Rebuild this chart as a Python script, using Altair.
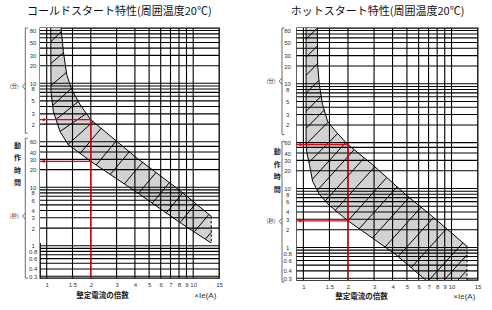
import altair as alt
import pandas as pd

# ---------------- shared axes / grid ----------------
X_DOMAIN = [0.9, 15]
T_DOMAIN = [0.28, 5300]          # seconds
X_TICKS = [1, 1.5, 2, 3, 4, 5, 6, 7, 8, 9, 10, 15]
X_GRID = [1, 1.5, 2, 3, 4, 5, 6, 7, 8, 9, 10]
GRID_MIN = [80, 70, 60, 50, 40, 30, 20, 10, 9, 8, 7, 6, 5, 4, 3, 2]
GRID_SEC = [60, 50, 40, 30, 20, 10, 9, 8, 7, 6, 5, 4, 3, 2, 1, 0.9, 0.8, 0.7, 0.6, 0.5, 0.4, 0.3]
LABEL_MIN = [80, 50, 30, 20, 10, 8, 5, 3, 2]
LABEL_SEC = [60, 40, 30, 20, 10, 8, 6, 4, 3, 2, 1, 0.8, 0.6, 0.4, 0.3]

# ---------------- cold start ----------------
COLD_TITLE = "コールドスタート特性(周囲温度20℃)"
COLD_FAST_X = [1.065, 1.07, 1.11, 1.233, 1.406, 1.62, 2.0, 4.03, 8.27, 13.28]
COLD_FAST_T = [5300, 435, 198, 90, 53, 41, 27.7, 8.5, 2.41, 1.11]
COLD_SLOW_X = [1.253, 1.299, 1.371, 1.483, 1.691, 2.0, 4.13, 7.97, 13.28]
COLD_SLOW_T = [5300, 2100, 839, 465, 258, 143, 31.5, 9.1, 3.18]
COLD_END_X = 13.28
COLD_END_T = [3.18, 1.11]
COLD_HATCH_X1 = [1.07, 1.07, 1.07, 1.098, 1.158, 1.233, 1.399, 1.691, 2.176, 2.714, 3.384, 4.221, 5.263, 6.564, 8.185, 10.21, 12.14]
COLD_HATCH_T1 = [3112, 1309, 551, 250.6, 144.5, 90, 54, 37.9, 24.0, 16.5, 11.35, 7.78, 5.36, 3.68, 2.54, 1.746, 1.30]
COLD_HATCH_X2 = [1.259, 1.302, 1.362, 1.472, 1.644, 1.870, 2.078, 2.362, 3.007, 3.697, 4.545, 5.588, 6.871, 8.446, 10.38, 12.77, 13.28]
COLD_HATCH_T2 = [4613, 2018, 918, 489, 293, 183, 133.5, 103, 63.4, 41.6, 27.4, 18.07, 11.96, 7.87, 5.19, 3.40, 1.70]
COLD_RED_X = 2
COLD_RED_T = [143, 27.7]

# ---------------- hot start ----------------
HOT_TITLE = "ホットスタート特性(周囲温度20℃)"
HOT_FAST_X = [1.043, 1.043, 1.052, 1.097, 1.155, 1.281, 1.495, 2.0, 2.924, 4.202, 6.7]
HOT_FAST_T = [5300, 63.4, 42.8, 25.8, 13.25, 7.98, 5.19, 2.83, 1.445, 0.755, 0.28]
HOT_SLOW_X = [1.242, 1.248, 1.281, 1.348, 1.457, 1.659, 2.0, 2.924, 4.905, 7.405, 12.73]
HOT_SLOW_T = [5300, 1270, 581, 266, 138, 91.8, 55.7, 25.5, 7.88, 3.37, 1.045]
HOT_END_X = 12.73
HOT_END_T = [1.045, 0.28]
HOT_HATCH_X1 = [1.043, 1.043, 1.043, 1.043, 1.043, 1.043, 1.043, 1.092, 1.149, 1.242, 1.406, 1.641, 2.0, 2.380, 2.924, 3.560, 4.354, 5.324, 7.035, 8.877, 11.02]
HOT_HATCH_T1 = [3414, 1690, 836, 413.5, 204.6, 105.3, 56.4, 27.9, 14.33, 9.29, 6.17, 4.25, 2.83, 2.07, 1.445, 1.016, 0.698, 0.449, 0.2767, 0.2767, 0.2767]
HOT_HATCH_X2 = [1.242, 1.246, 1.250, 1.273, 1.319, 1.382, 1.470, 1.703, 1.931, 2.193, 2.556, 3.007, 3.638, 4.294, 5.187, 6.227, 7.533, 9.226, 11.91, 12.73, 12.73]
HOT_HATCH_T2 = [5300, 2648, 1321, 684.6, 370.7, 214.3, 134.1, 85.6, 60.4, 45.1, 32.4, 22.9, 15.2, 10.65, 7.12, 4.80, 3.19, 2.06, 1.19, 0.752, 0.412]
HOT_RED_X = 2
HOT_RED_T = [55.7, 2.83]

# brace anchors (seconds): [top, bottom, cusp, cusp_upper, cusp_lower]
COLD_BRACE_MIN = [5300, 84, 530, 600, 470]
COLD_BRACE_SEC = [69, 0.28, 3.2, 3.6, 2.85]
HOT_BRACE_MIN = [5300, 82, 661, 745, 585]
HOT_BRACE_SEC = [63, 0.26, 2.77, 3.12, 2.46]

RED = "#e50012"
FONT_JP = "Noto Sans CJK JP"
FONT_NUM = "Liberation Sans"


def panel(title, w, h, fast_x, fast_t, slow_x, slow_t, end_x, end_t,
          hx1, ht1, hx2, ht2, red_x, red_t, brace_min, brace_sec, lay):
    xs = alt.Scale(type="log", domain=X_DOMAIN, nice=False)
    ys = alt.Scale(type="log", domain=T_DOMAIN, nice=False)
    ax = alt.Axis(values=X_TICKS, format="~g", ticks=False, domain=False, grid=False, title=None,
                  labelFont=FONT_NUM, labelFontSize=6, labelColor="#333", labelPadding=3,
                  labelOverlap=False, labelFlush=False)
    ay = alt.Axis(values=[m * 60 for m in LABEL_MIN] + LABEL_SEC,
                  labelExpr="datum.value >= 120 ? format(datum.value / 60, '~g') : format(datum.value, '~g')",
                  ticks=False, tickSize=0, domain=False, grid=False, title=None,
                  labelFont=FONT_NUM, labelFontSize=6, labelColor="#333", labelAlign="center",
                  labelBaseline="middle", labelPadding=lay["lab_pad"], labelOverlap=False,
                  labelFlush=False)

    def X(f="x"):
        return alt.X(f"{f}:Q", scale=xs, axis=ax)

    def Y(f="t"):
        return alt.Y(f"{f}:Q", scale=ys, axis=ay)

    one = pd.DataFrame({"a": [0]})
    # band fill: grey from the left frame to the slow curve, then white from the left frame to the fast curve
    slow_df = pd.DataFrame({"x": slow_x + [end_x], "t": slow_t + [end_t[-1]]})
    slow_df["x0"] = X_DOMAIN[0]
    fast_df = pd.DataFrame({"x": fast_x, "t": fast_t})
    fast_df["x0"] = X_DOMAIN[0]
    slow_line = pd.DataFrame({"x": slow_x, "t": slow_t})

    gray = alt.Chart(slow_df).mark_area(orient="horizontal", fill="#d2d2d2", clip=True).encode(
        y=Y(), x=X(), x2="x0")
    white = alt.Chart(fast_df).mark_area(orient="horizontal", fill="#ffffff", clip=True).encode(
        y=Y(), x=X(), x2="x0")

    hatch = alt.Chart(pd.DataFrame({"x": hx1, "t": ht1, "x2": hx2, "t2": ht2})).mark_rule(
        color="#000", strokeWidth=1.0, clip=True).encode(x=X(), y=Y(), x2="x2:Q", y2="t2:Q")

    gx = alt.Chart(pd.DataFrame({"x": X_GRID})).mark_rule(color="black", strokeWidth=1.1).encode(x=X())
    gy = alt.Chart(pd.DataFrame({"t": [m * 60 for m in GRID_MIN] + GRID_SEC})).mark_rule(
        color="black", strokeWidth=1.1).encode(y=Y())

    out_fast = alt.Chart(fast_df).mark_line(color="#000", strokeWidth=1.0, clip=True).encode(
        x=X(), y=Y(), order="t:Q")
    out_slow = alt.Chart(slow_line).mark_line(color="#000", strokeWidth=1.0, clip=True).encode(
        x=X(), y=Y(), order="t:Q")
    end = alt.Chart(pd.DataFrame({"x": [end_x], "t": [end_t[0]], "t2": [end_t[1]]})).mark_rule(
        color="#000", strokeWidth=1.0, strokeDash=[2.5, 2], clip=True).encode(x=X(), y=Y(), y2="t2:Q")

    red_df = pd.DataFrame({"x": [red_x] * len(red_t), "t": red_t})
    red_h = alt.Chart(red_df).mark_rule(color=RED, strokeWidth=1.2).encode(
        x=X(), x2=alt.value(0), y=Y())
    red_v = alt.Chart(red_df.iloc[[0]]).mark_rule(color=RED, strokeWidth=1.2).encode(
        x=X(), y=Y(), y2=alt.value(h))
    red_a = alt.Chart(red_df).mark_point(shape="triangle-left", filled=True, size=14,
                                         color=RED, opacity=1).encode(x=alt.value(3), y=Y())

    bx = lay["brace_x"]
    br_v = alt.Chart(pd.DataFrame({"t": [brace_min[0], brace_sec[0]], "t2": [brace_min[1], brace_sec[1]]})).mark_rule(
        color="#444", strokeWidth=0.8).encode(x=alt.value(bx), y=Y(), y2="t2:Q")
    br_hook = alt.Chart(pd.DataFrame({"t": [brace_min[0], brace_min[1], brace_sec[0], brace_sec[1]]})).mark_rule(
        color="#444", strokeWidth=0.8).encode(x=alt.value(bx), x2=alt.value(bx + 2.5), y=Y())
    br_cusp = alt.Chart(pd.DataFrame({
        "t": [brace_min[3], brace_min[4], brace_sec[3], brace_sec[4]],
        "t2": [brace_min[2], brace_min[2], brace_sec[2], brace_sec[2]]})).mark_rule(
        color="#444", strokeWidth=0.8).encode(x=alt.value(bx), x2=alt.value(bx - 3), y=Y(), y2="t2:Q")
    unit = alt.Chart(pd.DataFrame({"t": [brace_min[2], brace_sec[2]], "s": ["(分)", "(秒)"]})).mark_text(
        font=FONT_JP, fontSize=5.5, color="#333").encode(x=alt.value(lay["unit_x"]), y=Y(), text="s:N")

    ttl = alt.Chart(one).mark_text(text=title, font=FONT_JP, fontSize=11, color="#111").encode(
        x=alt.value(lay["title_x"]), y=alt.value(-16.5))
    ylab = alt.Chart(one).mark_text(text=["動", "作", "時", "間"], font=FONT_JP, fontSize=7,
                                    lineHeight=12.5, baseline="middle", color="#222",
                                    fontWeight="bold").encode(
        x=alt.value(lay["ylab_x"]), y=alt.value(lay["ylab_y"]))
    xlab = alt.Chart(one).mark_text(text="整定電流の倍数", font=FONT_JP, fontSize=7.5, color="#222",
                                    fontWeight="bold").encode(
        x=alt.value(lay["xlab_x"]), y=alt.value(lay["xlab_y"]))
    xunit = alt.Chart(one).mark_text(text="×Ie(A)", font=FONT_NUM, fontSize=8, color="#333",
                                     align="right").encode(
        x=alt.value(lay["xunit_x"]), y=alt.value(lay["xlab_y"]))

    return alt.layer(gray, white, hatch, gx, gy, out_fast, out_slow, end,
                     red_h, red_v, red_a, br_v, br_hook, br_cusp, unit,
                     ttl, ylab, xlab, xunit).properties(width=w, height=h)


left = panel(COLD_TITLE, 179, 250, COLD_FAST_X, COLD_FAST_T, COLD_SLOW_X, COLD_SLOW_T,
             COLD_END_X, COLD_END_T, COLD_HATCH_X1, COLD_HATCH_T1, COLD_HATCH_X2, COLD_HATCH_T2,
             COLD_RED_X, COLD_RED_T, COLD_BRACE_MIN, COLD_BRACE_SEC,
             dict(lab_pad=7.4, brace_x=-14.7, unit_x=-25.7, title_x=79.3, ylab_x=-22.4,
                  ylab_y=117.5, xlab_x=62.6, xlab_y=267.8, xunit_x=176.3))
right = panel(HOT_TITLE, 181, 252, HOT_FAST_X, HOT_FAST_T, HOT_SLOW_X, HOT_SLOW_T,
              HOT_END_X, HOT_END_T, HOT_HATCH_X1, HOT_HATCH_T1, HOT_HATCH_X2, HOT_HATCH_T2,
              HOT_RED_X, HOT_RED_T, HOT_BRACE_MIN, HOT_BRACE_SEC,
              dict(lab_pad=9.5, brace_x=-14.6, unit_x=-25.6, title_x=81, ylab_x=-19.3,
                   ylab_y=124.2, xlab_x=65, xlab_y=268.9, xunit_x=178.7))

chart = alt.hconcat(left, right, spacing=77.6, bounds="flush").properties(
    padding={"left": 9, "top": 4, "right": 0, "bottom": 0}
).configure_view(stroke="black", strokeWidth=1.3)

chart.save("out.html", embed_options={"renderer": "svg", "actions": False})
